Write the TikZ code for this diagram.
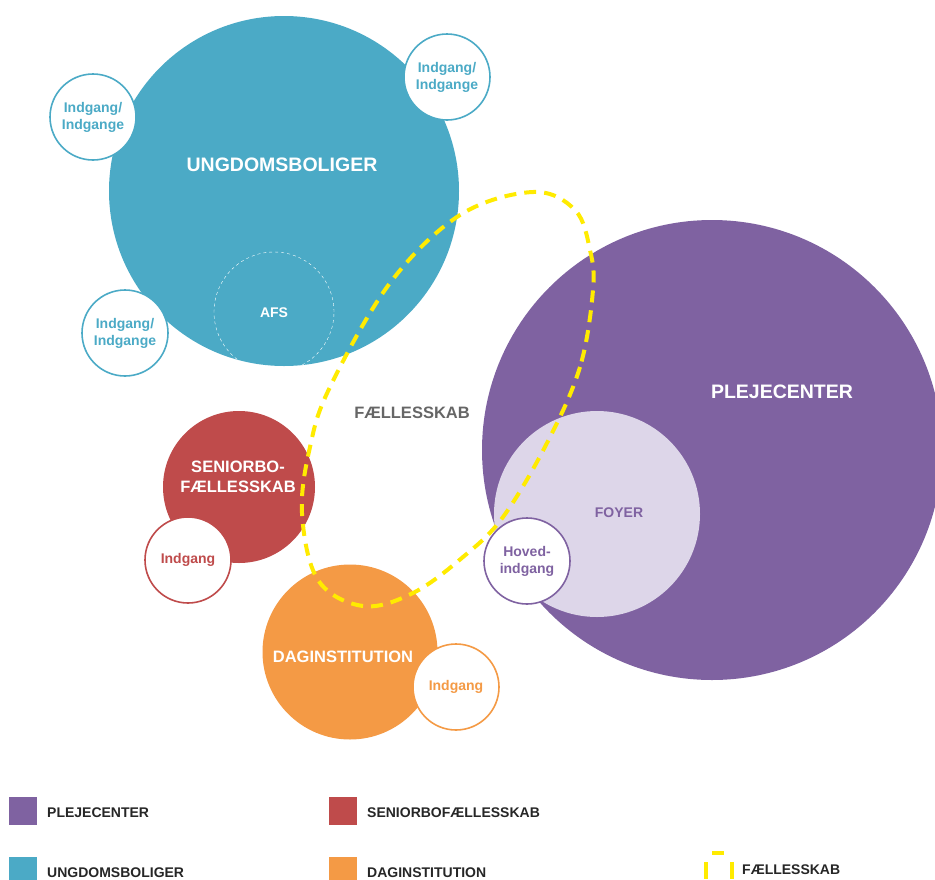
\documentclass[tikz,border=0pt]{standalone}
\usepackage{fontspec}
\setmainfont{Liberation Sans}
\definecolor{ungdom}{HTML}{4BAAC6}
\definecolor{pleje}{HTML}{7F62A1}
\definecolor{foyer}{HTML}{DDD6E9}
\definecolor{senior}{HTML}{BF4B4B}
\definecolor{dagi}{HTML}{F49A45}
\definecolor{faelles}{HTML}{FFEB00}
\definecolor{graatekst}{HTML}{666666}
\begin{document}
\begin{tikzpicture}[x=1pt, y=-1pt,
  flade/.style={circle, inner sep=0pt, minimum size=#1},
  indgang/.style={circle, draw=#1, line width=1.6pt, fill=white, text=#1, inner sep=0pt, minimum size=86pt, align=center, font=\bfseries\fontsize{14}{17}\selectfont},
  stor/.style={text=white, align=center, font=\bfseries\fontsize{19.5}{23}\selectfont},
  mellem/.style={text=white, align=center, font=\bfseries\fontsize{16.5}{19.5}\selectfont},
  lille/.style={align=center, font=\bfseries\fontsize{14}{17}\selectfont},
  felt/.style={minimum width=28pt, minimum height=28pt, inner sep=0pt, fill=#1},
  forklaring/.style={anchor=west, inner sep=0pt, text=black!85, font=\bfseries\fontsize{14}{17}\selectfont}]
  \useasboundingbox (0,0) rectangle (935,879);
  \clip (0,0) rectangle (935,879);
  \node[flade=350pt, fill=ungdom] (ungdom) at (284,191) {};
  \node[flade=120pt, draw=white, dashed, thin] (afs) at (274,312) {};
  \node[indgang=ungdom] (ungdomind1) at (93,117) {Indgang/\\Indgange};
  \node[indgang=ungdom] (ungdomind2) at (447,77) {Indgang/\\Indgange};
  \node[indgang=ungdom] (ungdomind3) at (125,333) {Indgang/\\Indgange};
  \node[stor] (ungdomtekst) at (282,165) {UNGDOMSBOLIGER};
  \node[lille, text=white] (afstekst) at (274,313) {AFS};
  \node[flade=460pt, fill=pleje] (pleje) at (712,450) {};
  \node[flade=206pt, fill=foyer] (foyer) at (597,514) {};
  \node[stor] (plejetekst) at (782,392) {PLEJECENTER};
  \node[lille, text=pleje] (foyertekst) at (619,513) {FOYER};
  \node[flade=152pt, fill=senior] (senior) at (239,487) {};
  \node[mellem] (seniortekst) at (238,477) {SENIORBO-\\FÆLLESSKAB};
  \node[indgang=senior] (seniorind) at (188,560) {Indgang};
  \node[flade=175pt, fill=dagi] (dag) at (350,652) {};
  \node[mellem] (dagtekst) at (343,657) {DAGINSTITUTION};
  \node[indgang=dagi] (dagind) at (456,687) {Indgang};
  \draw[faelles, line width=4pt, dash pattern=on 12pt off 8pt] plot[smooth cycle, tension=0.6] coordinates {(593,290) (580,367) (547,443) (503,517) (463,557) (413,593) (363,606) (318,580) (302,513) (310,447) (330,387) (390,283) (460,215) (533,192) (575,210) (590,250)};
  \node[indgang=pleje] (hovedind) at (527,561) {Hoved-\\indgang};
  \node[lille, text=graatekst, font=\bfseries\fontsize{16.5}{19}\selectfont] (faellestekst) at (412,413) {FÆLLESSKAB};
  \node[felt=pleje] (plejefelt) at (23,811) {};
  \node[forklaring] (plejeforkl) at (47,813) {PLEJECENTER};
  \node[felt=ungdom] (ungdomfelt) at (23,871) {};
  \node[forklaring] (ungdomforkl) at (47,873) {UNGDOMSBOLIGER};
  \node[felt=senior] (seniorfelt) at (343,811) {};
  \node[forklaring] (seniorforkl) at (367,813) {SENIORBOFÆLLESSKAB};
  \node[felt=dagi] (dagfelt) at (343,871) {};
  \node[forklaring] (dagforkl) at (367,873) {DAGINSTITUTION};
  \draw[faelles, line width=4pt] (712,853) -- (724,853) (706,862) -- (706,879) (732,862) -- (732,879);
  \node[forklaring] (faellesforkl) at (742,870) {FÆLLESSKAB};
\end{tikzpicture}
\end{document}
